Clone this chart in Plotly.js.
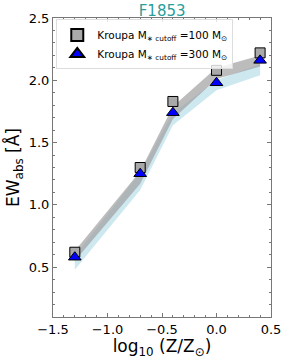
<!DOCTYPE html>
<html><head><meta charset="utf-8">
<script src="https://cdn.plot.ly/plotly-3.0.1.min.js"></script>
<style>html,body{margin:0;padding:0;background:#fff}#c{width:287px;height:359px}</style>
</head><body><div id="c"></div>
<script>
const logZ = [-1.3, -0.7, -0.4, 0.0, 0.4];
const ew100 = [0.62, 1.30, 1.83, 2.08, 2.22];
const ew300 = [0.58, 1.25, 1.74, 1.98, 2.16];
const band100Lo = [0.55, 1.17, 1.69, 2.01, 2.11];
const band100Hi = [0.63, 1.27, 1.79, 2.10, 2.20];
const band300Lo = [0.48, 1.12, 1.64, 1.92, 2.04];
const band300Hi = [0.59, 1.26, 1.74, 2.00, 2.13];
const labels = ['Kroupa M<sub>∗ cutoff</sub> =100 M<sub>⊙</sub>', 'Kroupa M<sub>∗ cutoff</sub> =300 M<sub>⊙</sub>'];

const traces = [
  {x: logZ, y: band300Lo, mode:'lines', line:{width:0}, showlegend:false, hoverinfo:'skip'},
  {x: logZ, y: band300Hi, mode:'lines', line:{width:0}, fill:'tonexty', fillcolor:'rgba(173,216,230,0.6)', showlegend:false, hoverinfo:'skip'},
  {x: logZ, y: band100Lo, mode:'lines', line:{width:0}, showlegend:false, hoverinfo:'skip'},
  {x: logZ, y: band100Hi, mode:'lines', line:{width:0}, fill:'tonexty', fillcolor:'rgba(160,160,160,0.7)', showlegend:false, hoverinfo:'skip'},
  {x: logZ, y: ew100, mode:'markers', name: labels[0], marker:{symbol:'square', size:10, color:'#a9a9a9', line:{color:'#000', width:1}}},
  {x: logZ, y: ew300, mode:'markers', name: labels[1], marker:{symbol:'triangle-up', size:11, color:'#0000ff', line:{color:'#000', width:1}}}
];

const axisCommon = {
  showgrid:false, zeroline:false, showline:true, linecolor:'#777', linewidth:1, mirror:'ticks',
  ticks:'inside', ticklen:4, tickcolor:'#777', tickfont:{family:'DejaVu Sans', size:13, color:'#000'},
};
const layout = {
  width:287, height:359,
  margin:{l:53, r:16, t:18, b:42},
  paper_bgcolor:'#fff', plot_bgcolor:'#fff',
  title:{text:'F1853', font:{family:'DejaVu Sans', size:15, color:'#2a9d9a'}, x:0.565, xanchor:'center', y:0.97, yanchor:'middle'},
  xaxis: Object.assign({}, axisCommon, {range:[-1.5, 0.5], dtick:0.5, tick0:0, tickformat:'.1f',
    minor:{dtick:0.1, ticklen:2, ticks:'inside', tickcolor:'#777'},
    title:{text:'log<sub>10</sub> (Z/Z<sub>⊙</sub>)', font:{family:'DejaVu Sans', size:17, color:'#000'}, standoff:2}}),
  yaxis: Object.assign({}, axisCommon, {range:[0.1, 2.5], dtick:0.5, tick0:0, tickformat:'.1f',
    minor:{dtick:0.1, ticklen:2, ticks:'inside', tickcolor:'#777'},
    title:{text:'EW<sub>abs</sub> [Å]', font:{family:'DejaVu Sans', size:17, color:'#000'}, standoff:4}}),
  legend:{x:0.015, y:0.995, xanchor:'left', yanchor:'top', bgcolor:'rgba(255,255,255,0.8)', bordercolor:'#ddd', borderwidth:1,
    font:{family:'DejaVu Sans', size:10.5, color:'#000'}, tracegroupgap:0, traceorder:'normal', itemsizing:'constant'},
  showlegend:true
};
Plotly.newPlot('c', traces, layout, {displayModeBar:false, staticPlot:true});
</script></body></html>
